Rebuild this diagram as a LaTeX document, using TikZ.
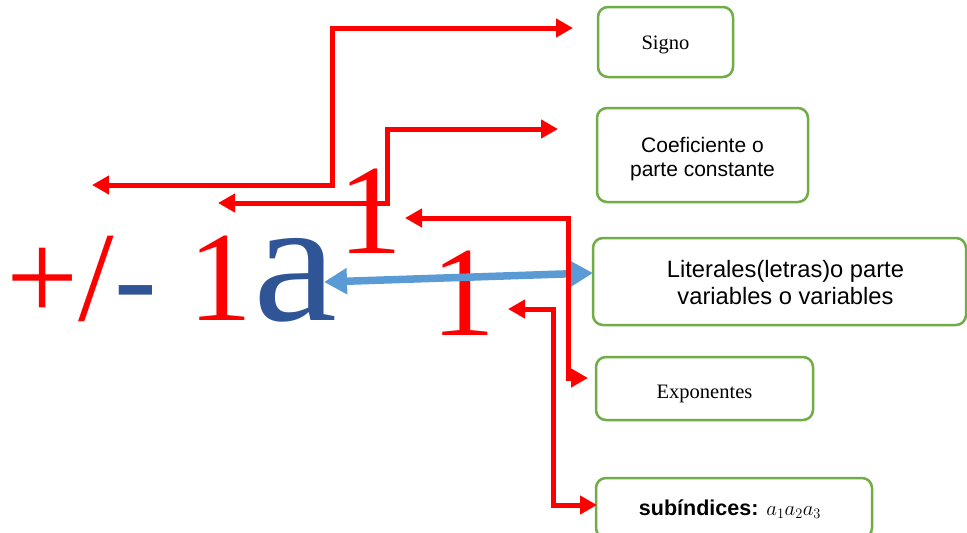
\documentclass[tikz,border=0pt]{standalone}
\usepackage{fontspec}
\usepackage{graphicx}
\setmainfont{Liberation Serif}
\newfontfamily\arialf{Liberation Sans}
\usetikzlibrary{arrows.meta}
\definecolor{rojo}{HTML}{FF0000}
\definecolor{azul}{HTML}{2F5597}
\definecolor{celeste}{HTML}{5B9BD5}
\definecolor{verde}{HTML}{70AD47}
\begin{document}
\begin{tikzpicture}[x=1pt,y=-1pt,
  box/.style={draw=verde,line width=2.5pt,rounded corners=10pt,inner sep=0pt},
  lbl/.style={inner sep=0pt,align=center},
  serifl/.style={font=\fontsize{20.5}{24}\selectfont},
  big/.style={anchor=base west,inner sep=0pt,font=\fontsize{128}{128}\selectfont},
  redarr/.style={draw=rojo,line width=5pt,{Triangle[length=17pt,width=18pt]}-{Triangle[length=17pt,width=18pt]}},
  bluearr/.style={draw=celeste,line width=7.5pt,{Triangle[length=23pt,width=25pt]}-{Triangle[length=23pt,width=25pt]}}
]
\useasboundingbox (0,0) rectangle (967,533);
\fill[white] (0,0) rectangle (967,533);

% boxes
\node[box,minimum width=135pt,minimum height=70pt] (signo) at (665.5,42) {};
\node[box,minimum width=211pt,minimum height=94pt] (coefbox) at (702.5,155) {};
\node[box,minimum width=373pt,minimum height=87pt] (lit) at (779.5,281.5) {};
\node[box,minimum width=217pt,minimum height=63pt] (expbox) at (704.5,388.5) {};
\node[box,minimum width=276pt,minimum height=60pt] (sub) at (734,508) {};

% labels
\node[lbl,serifl] (signot) at ([yshift=-3pt]signo.center) {Signo};
\node[lbl,font=\arialf\fontsize{21}{24}\selectfont] (coeft) at ([yshift=-4pt]coefbox.center) {Coeficiente o\\parte constante};
\node[lbl,font=\arialf\fontsize{23.7}{27}\selectfont] (litt) at ([xshift=6pt,yshift=-1pt]lit.center) {Literales(letras)o parte\\variables o variables};
\node[lbl,serifl] (expt) at ([yshift=-5pt]expbox.center) {Exponentes};
\node[lbl,font=\arialf\fontsize{21.5}{24}\selectfont] (subt) at ([xshift=-4pt,yshift=-1pt]sub.center) {\bfseries subíndices: \fontsize{21}{24}\selectfont$a_1a_2a_3$};

% big expression
\node[big,text=rojo] (plus) at (6,320) {+};
\node[big,text=rojo] (slash) at (78,320) {/};
\node[big,text=azul] (minus) at (114,320) {-};
\node[big,text=rojo] (coef) at (188,320) {1};
\node[anchor=base west,inner sep=0pt,font=\fontsize{175}{175}\selectfont,text=azul] (var) at (253,320) {\scalebox{1.08}[1]{a}};
\node[big,text=rojo] (expo) at (338,253) {1};
\node[big,text=rojo] (subi) at (431,335) {1};

% coordinates
\coordinate (a1s) at (92,185);  \coordinate (a1c) at (332,185);
\coordinate (a1d) at (332,28);  \coordinate (a1e) at (573,28);
\coordinate (a2s) at (218,203); \coordinate (a2c) at (387,203);
\coordinate (a2d) at (387,129); \coordinate (a2e) at (558,129);
\coordinate (a3s) at (405,218); \coordinate (a3c) at (568,218);
\coordinate (a3d) at (568,378); \coordinate (a3e) at (588,378);
\coordinate (a4s) at (508,309); \coordinate (a4c) at (553,309);
\coordinate (a4d) at (553,505); \coordinate (a4e) at (597,505);
\coordinate (bs) at (324,282);  \coordinate (be) at (593,273);

% arrows
\draw[bluearr] (bs) -- (be);
\draw[redarr] (a1s) -- (a1c) -- (a1d) -- (a1e);
\draw[redarr] (a2s) -- (a2c) -- (a2d) -- (a2e);
\draw[redarr] (a3s) -- (a3c) -- (a3d) -- (a3e);
\draw[redarr] (a4s) -- (a4c) -- (a4d) -- (a4e);
\end{tikzpicture}
\end{document}
